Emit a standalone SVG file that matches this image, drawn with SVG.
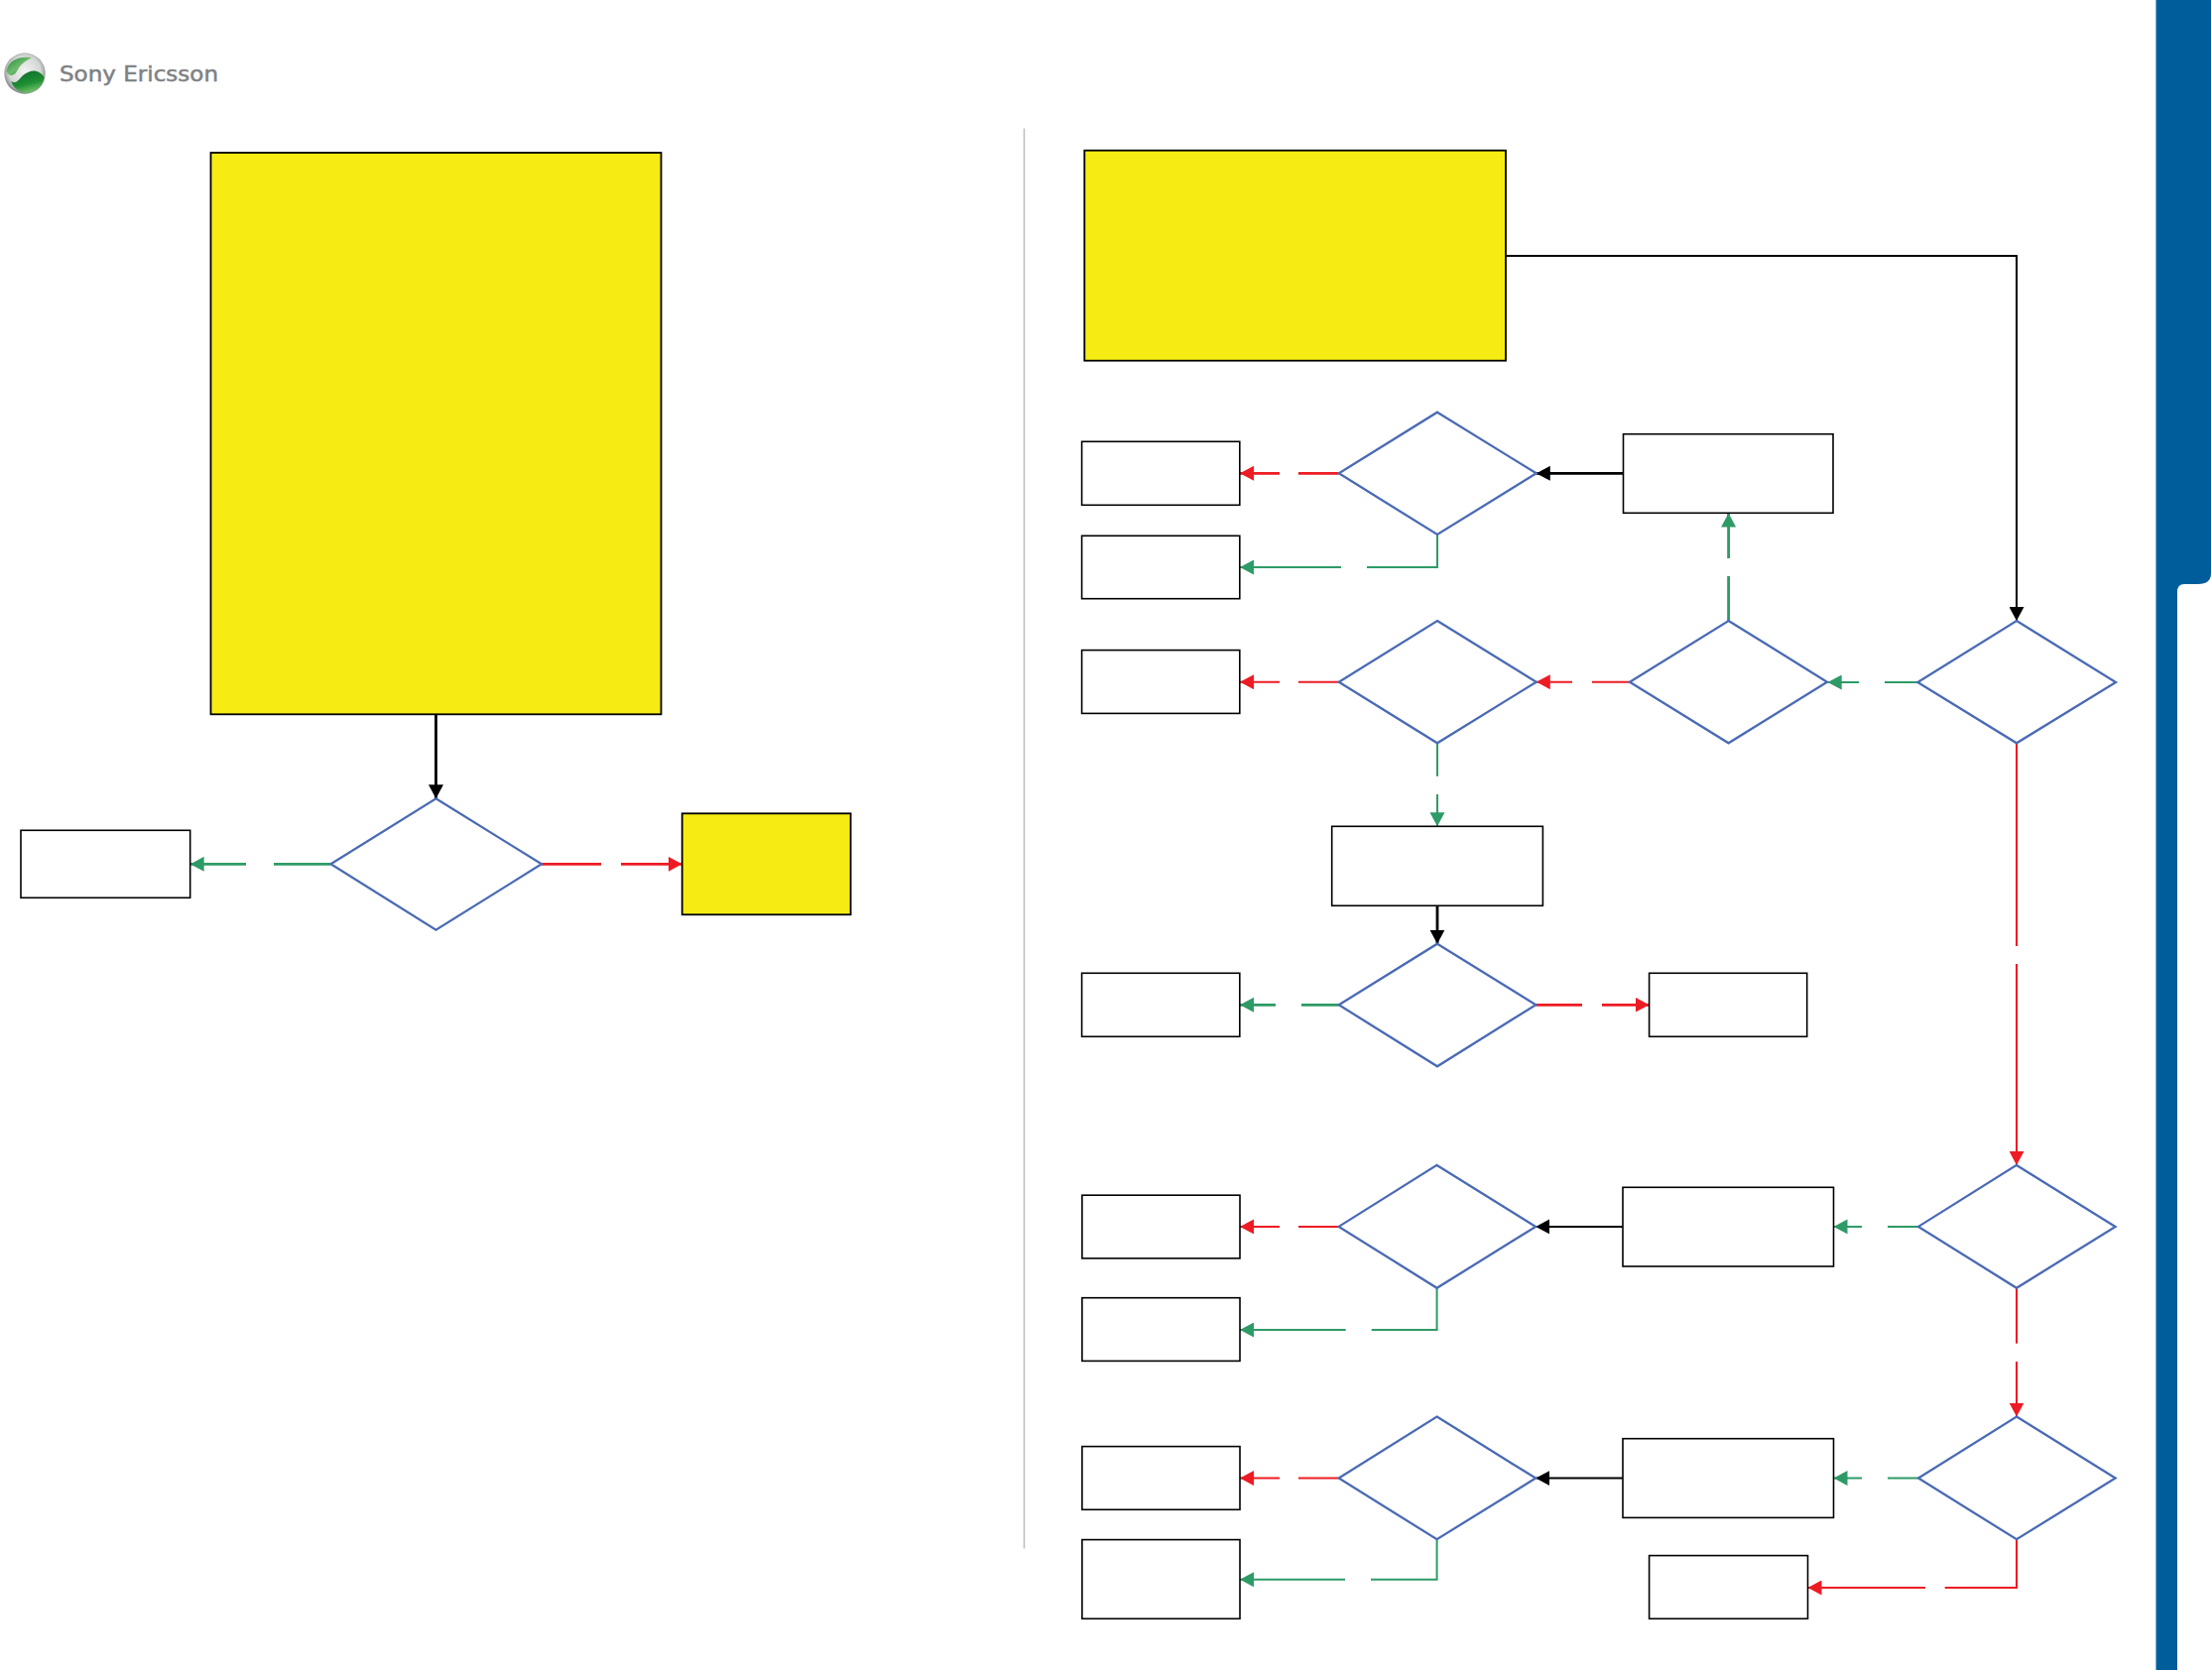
<svg xmlns="http://www.w3.org/2000/svg" width="2230" height="1684" viewBox="0 0 2230 1684">
<style>
.box{fill:#fff;stroke:#000;stroke-width:1.6}
.yel{fill:#f6ec13;stroke:#000;stroke-width:1.8}
.dia{fill:#fff;stroke:#4a6ab5;stroke-width:2.3}
.k,.g,.r{fill:none;stroke-width:2.8}
.k{stroke:#000;marker-end:url(#ak)}
.g{stroke:#2e9b66;marker-end:url(#ag)}
.r{stroke:#ed1c24;marker-end:url(#ar)}
.thin{stroke-width:2}
</style>
<defs>
<marker id="ak" markerUnits="userSpaceOnUse" markerWidth="14" markerHeight="15" refX="14" refY="7.5" orient="auto"><path d="M0 0L14 7.5L0 15z" fill="#000"/></marker>
<marker id="ag" markerUnits="userSpaceOnUse" markerWidth="14" markerHeight="15" refX="14" refY="7.5" orient="auto"><path d="M0 0L14 7.5L0 15z" fill="#2e9b66"/></marker>
<marker id="ar" markerUnits="userSpaceOnUse" markerWidth="14" markerHeight="15" refX="14" refY="7.5" orient="auto"><path d="M0 0L14 7.5L0 15z" fill="#ed1c24"/></marker>
<radialGradient id="sphere" cx="50%" cy="45%" r="55%"><stop offset="0" stop-color="#f2f3f2"/><stop offset="0.7" stop-color="#d4d7d5"/><stop offset="1" stop-color="#7e8482"/></radialGradient>
<linearGradient id="gr1" x1="0" y1="0" x2="1" y2="1"><stop offset="0" stop-color="#1f8a3f"/><stop offset="0.5" stop-color="#6fbb6c"/><stop offset="1" stop-color="#0c7a34"/></linearGradient>
<linearGradient id="gr2" x1="0.2" y1="0" x2="0.6" y2="1"><stop offset="0" stop-color="#0b6d2a"/><stop offset="0.6" stop-color="#1f9035"/><stop offset="1" stop-color="#7cc36e"/></linearGradient>
<filter id="soft" x="-10%" y="-10%" width="120%" height="120%"><feGaussianBlur stdDeviation="0.6"/></filter>
</defs>

<rect id="background" width="2230" height="1684" fill="#fff"/>
<path id="sidebar" d="M2173.5 0H2229V578Q2229 589 2216 589H2202Q2195 589 2195 597V1684H2173.5Z" fill="#005d9c"/>
<line id="divider" x1="1032.5" y1="129.5" x2="1032.5" y2="1561.6" stroke="#bdbdbd" stroke-width="1.5"/>

<g id="logo">
<g filter="url(#soft)">
<circle cx="25" cy="74" r="20.7" fill="url(#sphere)"/>
<g transform="translate(0 50) scale(0.3333)">
<path d="M20 66C22 38 50 18 96 24C78 34 64 42 52 64C44 80 28 84 20 66Z" fill="url(#gr1)"/>
<path d="M34 96C56 108 58 78 86 68C106 60 124 68 134 84C130 112 106 132 78 131C58 130 40 116 34 96Z" fill="url(#gr2)"/>
</g>
</g>
<text x="60" y="81.5" font-family="'DejaVu Sans',sans-serif" font-size="21" fill="#7f8183" stroke="#7f8183" stroke-width="0.5" textLength="160" lengthAdjust="spacingAndGlyphs">Sony Ericsson</text>
</g>

<g id="connectors">
<path class="k" d="M439.5 720.3V805.3"/>
<path class="g" d="M333.5 871.3H276M248 871.3H191.7"/>
<path class="r" d="M546 871.3H606M626 871.3H687.7"/>
<path class="k thin" d="M1518 258H2033V626"/>
<path class="r" d="M1349.8 477.3H1309M1290 477.3H1250"/>
<path class="g thin" d="M1449 539V572H1378M1352 572H1250"/>
<path class="k" d="M1636.5 477.3H1548.8"/>
<path class="r thin" d="M1349.8 687.7H1309M1290 687.7H1250"/>
<path class="r thin" d="M1643 687.7H1605M1585 687.7H1548.8"/>
<path class="g thin" d="M1933.3 688H1900M1874 688H1842.7"/>
<path class="g" d="M1742.6 626V581M1742.6 563V517.5"/>
<path class="g thin" d="M1449 749.3V782.7M1449 801V833.3"/>
<path class="k" d="M1449 913.3V951.7"/>
<path class="g" d="M1349.8 1013.3H1312M1286 1013.3H1250"/>
<path class="r" d="M1548.3 1013.3H1595M1615 1013.3H1662.6"/>
<path class="r thin" d="M2033 749.3V954M2033 972V1174.9"/>
<path class="g thin" d="M1934 1236.9H1903M1877 1236.9H1848.5"/>
<path class="k thin" d="M1636 1236.9H1548.2"/>
<path class="r thin" d="M1349.7 1236.9H1309M1290 1236.9H1250"/>
<path class="g thin" d="M1448.6 1298.8V1341H1382.7M1356.7 1341H1250"/>
<path class="r thin" d="M2033 1298.8V1354.7M2033 1373V1428.6"/>
<path class="g thin" d="M1934 1490.6H1903M1877 1490.6H1848.5"/>
<path class="k thin" d="M1636 1490.6H1548.2"/>
<path class="r thin" d="M1349.7 1490.6H1309M1290 1490.6H1250"/>
<path class="g thin" d="M1448.6 1552.2V1592.8H1382M1356 1592.8H1250"/>
<path class="r thin" d="M2033 1552.2V1601H1960.7M1941 1601H1822.5"/>
</g>

<g id="n-start"><rect class="yel" x="212.5" y="154" width="454" height="566.3"/></g>
<g id="n-d1"><polygon class="dia" points="439.5,805.3 546,871.3 439.5,937.7 333.5,871.3"/></g>
<g id="n-ok1"><rect class="box" x="21" y="837.3" width="170.7" height="68"/></g>
<g id="n-end1"><rect class="yel" x="687.7" y="820.3" width="169.9" height="102"/></g>

<g id="n-start2"><rect class="yel" x="1093.3" y="151.7" width="424.7" height="212"/></g>

<g id="n-a"><polygon class="dia" points="1449,415.7 1548.8,477.3 1449,539 1349.8,477.3"/></g>
<g id="n-a-r"><rect class="box" x="1090.6" y="445.3" width="159.2" height="64"/></g>
<g id="n-a-g"><rect class="box" x="1090.6" y="540.3" width="159.2" height="63.4"/></g>
<g id="n-a-in"><rect class="box" x="1636.5" y="437.7" width="211.5" height="79.6"/></g>

<g id="n-b"><polygon class="dia" points="1449,626 1548.8,687.7 1449,749.3 1349.8,687.7"/></g>
<g id="n-b-r"><rect class="box" x="1090.6" y="655.6" width="159.2" height="63.8"/></g>
<g id="n-c"><polygon class="dia" points="1742.6,626 1842,687.7 1742.6,749.3 1643,687.7"/></g>
<g id="n-r1"><polygon class="dia" points="2033,626 2133,688 2033,749.3 1933.3,688"/></g>

<g id="n-m"><rect class="box" x="1342.7" y="833.3" width="212.7" height="80"/></g>
<g id="n-d"><polygon class="dia" points="1449,951.7 1548.3,1013.3 1449,1075.3 1349.8,1013.3"/></g>
<g id="n-d-g"><rect class="box" x="1090.6" y="981.3" width="159.2" height="64"/></g>
<g id="n-d-r"><rect class="box" x="1662.6" y="981.3" width="159.1" height="64"/></g>

<g id="n-r2"><polygon class="dia" points="2033,1174.9 2132.6,1236.9 2033,1298.8 1934,1236.9"/></g>
<g id="n-e-in"><rect class="box" x="1636" y="1197.3" width="212.5" height="79.7"/></g>
<g id="n-e"><polygon class="dia" points="1448.6,1174.9 1548.2,1236.9 1448.6,1298.8 1349.7,1236.9"/></g>
<g id="n-e-r"><rect class="box" x="1090.9" y="1205.2" width="159.1" height="63.7"/></g>
<g id="n-e-g"><rect class="box" x="1090.9" y="1308.7" width="159.1" height="63.7"/></g>

<g id="n-r3"><polygon class="dia" points="2033,1428.6 2132.6,1490.6 2033,1552.2 1934,1490.6"/></g>
<g id="n-f-in"><rect class="box" x="1636" y="1450.7" width="212.5" height="79.7"/></g>
<g id="n-f"><polygon class="dia" points="1448.6,1428.6 1548.2,1490.6 1448.6,1552.2 1349.7,1490.6"/></g>
<g id="n-f-r"><rect class="box" x="1090.9" y="1458.6" width="159.1" height="63.7"/></g>
<g id="n-f-g"><rect class="box" x="1090.9" y="1552.6" width="159.1" height="79.7"/></g>
<g id="n-r3-r"><rect class="box" x="1662.6" y="1568.6" width="159.9" height="63.7"/></g>
</svg>
